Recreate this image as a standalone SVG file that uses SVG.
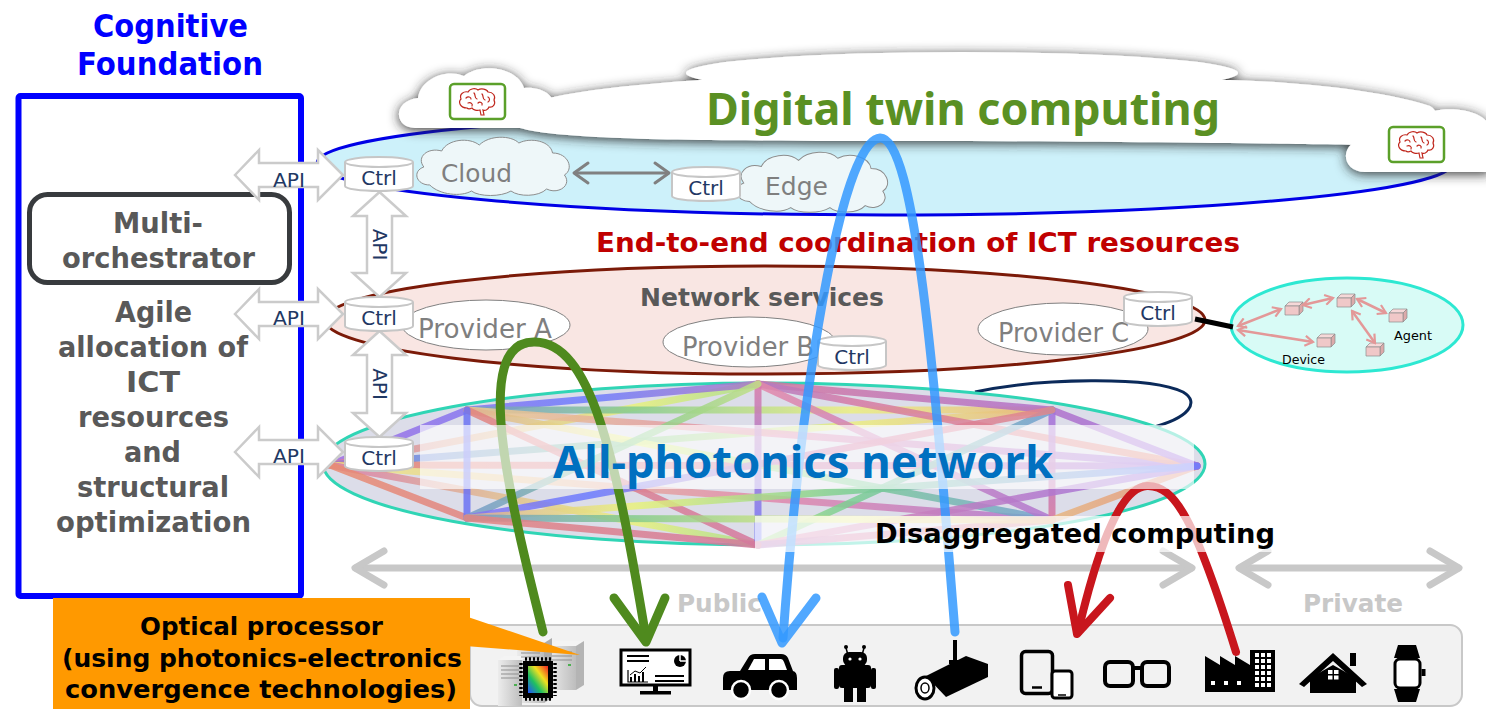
<svg xmlns="http://www.w3.org/2000/svg" xmlns:xlink="http://www.w3.org/1999/xlink" width="1486" height="709" viewBox="0 0 1486 709">
  <style>
    .nb { font-family: "Noto Sans", "Open Sans", "DejaVu Sans", sans-serif; font-weight: 700; }
    .db { font-family: "DejaVu Sans", "Verdana", sans-serif; font-weight: 700; }
    .dr { font-family: "DejaVu Sans", "Verdana", sans-serif; font-weight: 400; }
    .navy { fill: #1f3864; }
    .gray { fill: #7f7f7f; }
    .api { fill: #ffffff; stroke: #cbcbcb; stroke-width: 2.5; stroke-linejoin: miter; }
    .cyl { fill: #ffffff; stroke: #c6c6c6; stroke-width: 2; }
    .puff { fill: #eef7f9; stroke: #8c8c8c; stroke-width: 1; }
    .prov { fill: #ffffff; stroke: #808080; stroke-width: 1; }
    .mesh line { stroke-width: 7; stroke-linecap: round; opacity: 0.85; }
    .wire { fill: none; stroke-linecap: round; stroke-linejoin: round; }
    .pinkarrow { stroke: #e39898; stroke-width: 2.5; fill: none; marker-start: url(#chev); marker-end: url(#chev); }
    .cube path { stroke: #8d8d8d; stroke-width: 0.7; }
    .ico { fill: #000000; }
  </style>
  <defs>
    <filter id="shadow" x="-5%" y="-50%" width="110%" height="200%">
      <feDropShadow dx="0" dy="2" stdDeviation="6" flood-color="#262626" flood-opacity="0.95"/>
    </filter>
    <marker id="chev" viewBox="0 0 12 12" refX="10" refY="6" markerWidth="12" markerHeight="12" markerUnits="userSpaceOnUse" orient="auto-start-reverse">
      <path d="M2 1 L10 6 L2 11" fill="none" stroke="#e39898" stroke-width="2.2"/>
    </marker>
    <symbol id="cyl" overflow="visible">
      <path class="cyl" d="M0 5 A34 5 0 0 1 68 5 V29 A34 5 0 0 1 0 29 Z"/>
      <path class="cyl" d="M0 5 A34 5 0 0 0 68 5" fill="none"/>
    </symbol>
    <symbol id="puff" overflow="visible">
      <path class="puff" d="M22 50 C8 50 4 36 16 32 C8 22 20 12 34 16 C40 4 62 2 72 10 C82 0 104 0 112 8 C124 2 144 6 146 18 C162 18 168 34 158 40 C166 50 152 60 140 54 C132 62 112 62 104 56 C94 62 72 62 64 56 C54 62 32 60 22 50 Z"/>
    </symbol>
    <symbol id="brain" overflow="visible">
      <rect x="0" y="0" width="55" height="35" rx="4" fill="#ffffff" stroke="#5ba02a" stroke-width="2.5"/>
      <g fill="none" stroke="#c0281e" stroke-width="1.2" stroke-linecap="round">
        <path d="M17 24 C10 24 8 18 11 15 C9 10 14 7 18 8 C20 4 26 4 28 6 C31 4 37 5 38 8 C43 8 46 12 44 16 C46 20 43 24 39 23 C38 26 35 27 33 26 L34 31 L31 31 L30 26 C27 27 23 26 22 24 C20 25 18 25 17 24 Z"/>
        <path d="M16 14 C18 12 21 13 21 15"/>
        <path d="M24 9 C26 11 24 14 27 15"/>
        <path d="M32 10 C34 12 32 15 35 16"/>
        <path d="M18 19 C21 18 23 20 22 22"/>
        <path d="M28 19 C30 17 33 19 32 21"/>
        <path d="M38 13 C40 14 40 17 38 18"/>
      </g>
    </symbol>
    <symbol id="cube" overflow="visible">
      <g class="cube">
        <path d="M0 4 L4 0 L18 0 L14 4 Z" fill="#f6d8d8"/>
        <path d="M14 4 L18 0 L18 9 L14 13 Z" fill="#dcaaaa"/>
        <path d="M0 4 H14 V13 H0 Z" fill="#f0c8c8"/>
      </g>
    </symbol>
    <linearGradient id="gA" gradientUnits="userSpaceOnUse" x1="330" y1="0" x2="1198" y2="0">
      <stop offset="0" stop-color="#a36ee0"/><stop offset="0.3" stop-color="#6c7cff"/><stop offset="0.6" stop-color="#d67aa5"/><stop offset="1" stop-color="#e8917a"/>
    </linearGradient>
    <linearGradient id="gB" gradientUnits="userSpaceOnUse" x1="330" y1="0" x2="1198" y2="0">
      <stop offset="0" stop-color="#d979a8"/><stop offset="0.35" stop-color="#e9f27c"/><stop offset="0.6" stop-color="#7ccf93"/><stop offset="1" stop-color="#6f7dff"/>
    </linearGradient>
    <linearGradient id="gC" gradientUnits="userSpaceOnUse" x1="330" y1="0" x2="1198" y2="0">
      <stop offset="0" stop-color="#e98c72"/><stop offset="0.5" stop-color="#d4789f"/><stop offset="1" stop-color="#9f6fe2"/>
    </linearGradient>
    <linearGradient id="gD" gradientUnits="userSpaceOnUse" x1="330" y1="0" x2="1198" y2="0">
      <stop offset="0" stop-color="#6a72ff"/><stop offset="0.35" stop-color="#86cc8c"/><stop offset="0.6" stop-color="#ecef82"/><stop offset="1" stop-color="#e48e7e"/>
    </linearGradient>
    <linearGradient id="gE" gradientUnits="userSpaceOnUse" x1="330" y1="0" x2="1198" y2="0">
      <stop offset="0" stop-color="#eef283"/><stop offset="0.5" stop-color="#e288aa"/><stop offset="1" stop-color="#986fe2"/>
    </linearGradient>
    <linearGradient id="gV1" gradientUnits="userSpaceOnUse" x1="0" y1="384" x2="0" y2="545">
      <stop offset="0" stop-color="#d97aa8"/><stop offset="1" stop-color="#6c78ff"/>
    </linearGradient>
    <linearGradient id="gV2" gradientUnits="userSpaceOnUse" x1="0" y1="410" x2="0" y2="520">
      <stop offset="0" stop-color="#a070e0"/><stop offset="1" stop-color="#d8789f"/>
    </linearGradient>
    <linearGradient id="srvFront" x1="0" y1="0" x2="1" y2="0">
      <stop offset="0" stop-color="#ececec"/><stop offset="1" stop-color="#bdbdbd"/>
    </linearGradient>
    <linearGradient id="die" x1="0" y1="1" x2="1" y2="0">
      <stop offset="0" stop-color="#2050ff"/><stop offset="0.35" stop-color="#20c060"/><stop offset="0.65" stop-color="#f0e020"/><stop offset="1" stop-color="#f02020"/>
    </linearGradient>
  </defs>

  <rect width="1486" height="709" fill="#ffffff"/>

  <!-- Cognitive Foundation column -->
  <g id="cognitive-foundation">
    <text class="db" x="93" y="37" font-size="32" fill="#0000ff" textLength="155" lengthAdjust="spacingAndGlyphs">Cognitive</text>
    <text class="db" x="77" y="75" font-size="32" fill="#0000ff" textLength="186" lengthAdjust="spacingAndGlyphs">Foundation</text>
    <rect x="18.5" y="96" width="282.5" height="500" rx="2" fill="#ffffff" stroke="#0000ff" stroke-width="6"/>
  </g>
  <g id="multi-orchestrator">
    <rect x="29.5" y="194.5" width="260" height="88" rx="18" fill="#ffffff" stroke="#383b3e" stroke-width="5"/>
    <text class="db" x="113" y="233" font-size="29" fill="#595959" textLength="90" lengthAdjust="spacingAndGlyphs">Multi-</text>
    <text class="db" x="62" y="268" font-size="29" fill="#595959" textLength="193" lengthAdjust="spacingAndGlyphs">orchestrator</text>
  </g>
  <g id="agile-allocation" class="db" font-size="29" fill="#595959">
    <text x="115" y="322" textLength="77" lengthAdjust="spacingAndGlyphs">Agile</text>
    <text x="58" y="357" textLength="190" lengthAdjust="spacingAndGlyphs">allocation of</text>
    <text x="126" y="392" textLength="54" lengthAdjust="spacingAndGlyphs">ICT</text>
    <text x="78" y="427" textLength="151" lengthAdjust="spacingAndGlyphs">resources</text>
    <text x="124" y="462" textLength="57" lengthAdjust="spacingAndGlyphs">and</text>
    <text x="77" y="497" textLength="152" lengthAdjust="spacingAndGlyphs">structural</text>
    <text x="56" y="532" textLength="195" lengthAdjust="spacingAndGlyphs">optimization</text>
  </g>

  <!-- Compute layer: cloud / edge ellipse -->
  <g id="compute-layer">
    <ellipse cx="885" cy="163" rx="568" ry="52" fill="#cdf1fa" stroke="#0000e6" stroke-width="3"/>
  </g>

  <!-- Digital twin computing cloud -->
  <g id="digital-twin">
    <g filter="url(#shadow)" fill="#ffffff">
      <path d="M520 128 C560 140 700 141 900 141 C1100 141 1300 144 1370 145 C1420 140 1450 118 1430 106 C1380 90 1300 82 1230 80 L700 80 C640 84 580 90 540 100 Z"/>
      <ellipse cx="962" cy="73" rx="276" ry="21"/>
      <path d="M415 128 C394 128 392 101 418 98 C420 80 445 68 464 76 C482 62 518 68 524 88 C550 86 562 105 550 118 C548 126 540 128 530 128 Z"/>
      <path d="M1365 172 C1340 172 1338 140 1368 138 C1372 118 1400 108 1425 114 C1445 104 1490 110 1490 130 L1490 172 Z"/>
    </g>
    <use href="#brain" x="450" y="84"/>
    <use href="#brain" x="1389" y="127"/>
    <text class="nb" x="706" y="125" font-size="45" fill="#5a9023" textLength="514" lengthAdjust="spacingAndGlyphs">Digital twin computing</text>
  </g>

  <g id="cloud-node">
    <use href="#puff" transform="translate(408,135) scale(0.99,1)"/>
    <text class="dr gray" x="441" y="182" font-size="25" textLength="71" lengthAdjust="spacingAndGlyphs">Cloud</text>
  </g>
  <g id="edge-node">
    <use href="#puff" transform="translate(728,150) scale(0.98,1.03)"/>
    <text class="dr gray" x="765" y="195" font-size="25" textLength="63" lengthAdjust="spacingAndGlyphs">Edge</text>
  </g>

  <text class="db" x="596" y="252" font-size="27" fill="#c00000" textLength="644" lengthAdjust="spacingAndGlyphs">End-to-end coordination of ICT resources</text>

  <!-- Network services layer -->
  <g id="network-services">
    <ellipse cx="765" cy="320" rx="440" ry="54" fill="#f9e6e3" stroke="#7b1a08" stroke-width="3"/>
    <text class="db" x="640" y="306" font-size="25" fill="#595959" textLength="244" lengthAdjust="spacingAndGlyphs">Network services</text>
  </g>
  <g id="provider-a">
    <ellipse class="prov" cx="486" cy="325" rx="84" ry="25"/>
    <text class="dr gray" x="418" y="338" font-size="26" textLength="134" lengthAdjust="spacingAndGlyphs">Provider A</text>
  </g>
  <g id="provider-b">
    <ellipse class="prov" cx="749" cy="342" rx="86" ry="25"/>
    <text class="dr gray" x="682" y="356" font-size="26" textLength="132" lengthAdjust="spacingAndGlyphs">Provider B</text>
  </g>
  <g id="provider-c">
    <ellipse class="prov" cx="1063" cy="329" rx="85" ry="26"/>
    <text class="dr gray" x="998" y="342" font-size="26" textLength="131" lengthAdjust="spacingAndGlyphs">Provider C</text>
  </g>

  <!-- Device / agent cluster -->
  <g id="device-agents">
    <ellipse cx="1347" cy="325" rx="116" ry="47" fill="#d8fbf6" stroke="#2de8d2" stroke-width="3"/>
    <use href="#cube" x="1285" y="302"/>
    <use href="#cube" x="1337" y="294"/>
    <use href="#cube" x="1389" y="309"/>
    <use href="#cube" x="1317" y="334"/>
    <use href="#cube" x="1366" y="343"/>
    <text class="dr" x="1282" y="364" font-size="13" fill="#000" textLength="43" lengthAdjust="spacingAndGlyphs">Device</text>
    <text class="dr" x="1394" y="340" font-size="13" fill="#000" textLength="38" lengthAdjust="spacingAndGlyphs">Agent</text>
  </g>

  <!-- All-photonics network layer -->
  <g id="all-photonics">
    <path d="M975 392 C1040 378 1150 376 1183 392 C1200 402 1190 418 1150 428" fill="none" stroke="#0b2a5a" stroke-width="3"/>
    <ellipse cx="764" cy="464" rx="441" ry="81" fill="#dcdde9" stroke="#30d5b5" stroke-width="3"/>
    <g class="mesh">
      <line x1="330" y1="465" x2="467" y2="410" stroke="url(#gA)"/>
      <line x1="330" y1="465" x2="758" y2="384" stroke="url(#gB)"/>
      <line x1="330" y1="465" x2="1052" y2="410" stroke="url(#gD)"/>
      <line x1="330" y1="465" x2="1197" y2="466" stroke="url(#gC)"/>
      <line x1="330" y1="465" x2="1052" y2="520" stroke="url(#gE)"/>
      <line x1="330" y1="465" x2="758" y2="545" stroke="url(#gB)"/>
      <line x1="330" y1="465" x2="467" y2="518" stroke="url(#gC)"/>
      <line x1="467" y1="410" x2="758" y2="384" stroke="url(#gA)"/>
      <line x1="467" y1="410" x2="1052" y2="410" stroke="url(#gD)"/>
      <line x1="467" y1="410" x2="1197" y2="466" stroke="url(#gE)"/>
      <line x1="467" y1="410" x2="1052" y2="520" stroke="url(#gB)"/>
      <line x1="467" y1="410" x2="758" y2="545" stroke="url(#gC)"/>
      <line x1="467" y1="410" x2="467" y2="518" stroke="#6c74f4"/>
      <line x1="758" y1="384" x2="1052" y2="410" stroke="url(#gC)"/>
      <line x1="758" y1="384" x2="1197" y2="466" stroke="url(#gA)"/>
      <line x1="758" y1="384" x2="1052" y2="520" stroke="url(#gE)"/>
      <line x1="758" y1="384" x2="758" y2="545" stroke="url(#gV1)"/>
      <line x1="758" y1="384" x2="467" y2="518" stroke="url(#gD)"/>
      <line x1="1052" y1="410" x2="1197" y2="466" stroke="url(#gC)"/>
      <line x1="1052" y1="410" x2="1052" y2="520" stroke="url(#gV2)"/>
      <line x1="1052" y1="410" x2="758" y2="545" stroke="url(#gB)"/>
      <line x1="1052" y1="410" x2="467" y2="518" stroke="url(#gA)"/>
      <line x1="1197" y1="466" x2="1052" y2="520" stroke="url(#gD)"/>
      <line x1="1197" y1="466" x2="758" y2="545" stroke="url(#gE)"/>
      <line x1="1197" y1="466" x2="467" y2="518" stroke="url(#gB)"/>
      <line x1="1052" y1="520" x2="758" y2="545" stroke="url(#gA)"/>
      <line x1="1052" y1="520" x2="467" y2="518" stroke="url(#gD)"/>
      <line x1="758" y1="545" x2="467" y2="518" stroke="url(#gC)"/>
    </g>
  </g>

  <!-- Public / Private span arrows -->
  <g id="scope-arrows" class="wire" stroke="#c8c8c8" stroke-width="7">
    <path d="M356 568 H1191"/>
    <path d="M384 551 L355 568 L384 585"/>
    <path d="M1163 551 L1192 568 L1163 585"/>
    <path d="M1240 568 H1458"/>
    <path d="M1268 551 L1239 568 L1268 585"/>
    <path d="M1430 551 L1459 568 L1430 585"/>
  </g>
  <text class="db" x="677" y="612" font-size="24.5" fill="#c8c8c8" textLength="85" lengthAdjust="spacingAndGlyphs">Public</text>
  <text class="db" x="1303" y="612" font-size="24.5" fill="#c8c8c8" textLength="100" lengthAdjust="spacingAndGlyphs">Private</text>

  <!-- Device tray with endpoint icons -->
  <g id="device-tray">
    <rect x="470" y="625" width="992" height="81" rx="12" fill="#f2f2f2" stroke="#c8c8c8" stroke-width="2"/>
  </g>
  <g id="icon-server">
    <path d="M548 646 L556 641 L584 641 L576 646 Z" fill="#f4f4f4"/>
    <rect x="548" y="646" width="28" height="44" fill="url(#srvFront)"/>
    <path d="M576 646 L584 641 L584 685 L576 690 Z" fill="#b4b4b4"/>
    <path d="M517 643 L525 638 L552 638 L544 643 Z" fill="#f4f4f4"/>
    <rect x="517" y="643" width="27" height="60" fill="url(#srvFront)"/>
    <path d="M544 643 L552 638 L552 698 L544 703 Z" fill="#acacac"/>
    <path d="M498 660 L504 656 L528 656 L522 660 Z" fill="#f4f4f4"/>
    <rect x="498" y="660" width="24" height="46" fill="url(#srvFront)"/>
    <g stroke="#8f8f8f" stroke-width="1">
      <path d="M552 652 H572 M552 656 H572 M552 660 H572"/>
      <path d="M521 649 H540 M521 653 H540 M521 657 H540"/>
      <path d="M501 666 H519 M501 670 H519 M501 674 H519 M501 678 H519"/>
    </g>
    <g fill="#4caf50">
      <rect x="568" y="664" width="3" height="2"/>
      <rect x="536" y="661" width="3" height="2"/>
      <rect x="514" y="684" width="3" height="2"/>
    </g>
    <g stroke="#000" stroke-width="3.5" stroke-dasharray="2 2">
      <line x1="525" y1="659" x2="552" y2="659"/>
      <line x1="525" y1="699" x2="552" y2="699"/>
      <line x1="521" y1="663" x2="521" y2="696"/>
      <line x1="555" y1="663" x2="555" y2="696"/>
    </g>
    <rect x="523" y="661" width="30" height="37" fill="#000"/>
    <rect x="528" y="666" width="20" height="27" fill="url(#die)"/>
  </g>
  <g id="icon-monitor">
    <rect x="621" y="650" width="69" height="35" fill="#fff" stroke="#000" stroke-width="3"/>
    <rect x="653" y="685" width="5" height="7" fill="#000"/>
    <rect x="640" y="691" width="31" height="3.5" fill="#000"/>
    <path d="M627 656 H649 M627 661 H649 M655 676 H684 M655 681 H684" stroke="#000" stroke-width="2"/>
    <circle cx="680" cy="661" r="6" fill="#000"/>
    <path d="M680 661 V654.5 M680 661 H686.5" stroke="#fff" stroke-width="1.5"/>
    <path d="M628 670 V682 H648" fill="none" stroke="#000" stroke-width="1.2"/>
    <path d="M631 682 V677 M635 682 V674 M639 682 V676 M643 682 V672" stroke="#000" stroke-width="2"/>
    <path d="M630 675 L635 671 L640 673 L646 667" fill="none" stroke="#000" stroke-width="1"/>
  </g>
  <g id="icon-car">
    <path class="ico" d="M723 690 V678 Q723 671 730 671 L740 671 L748 658 Q750 654 755 654 L781 654 Q786 654 788 658 L793 671 Q797 672 797 678 V690 Z"/>
    <path d="M748 670 L754 659 L765 659 L765 670 Z" fill="#fff"/>
    <path d="M769 659 L781 659 Q783 659 784 662 L787 670 L769 670 Z" fill="#fff"/>
    <circle cx="741" cy="690" r="9" fill="#000" stroke="#fff" stroke-width="2.5"/>
    <circle cx="779" cy="690" r="9" fill="#000" stroke="#fff" stroke-width="2.5"/>
  </g>
  <g id="icon-robot" class="ico">
    <path d="M846 648 L848 655 M864 648 L862 655" stroke="#000" stroke-width="1.5"/>
    <circle cx="846" cy="647" r="2"/>
    <circle cx="864" cy="647" r="2"/>
    <rect x="843" y="652" width="24" height="14" rx="6"/>
    <rect x="839" y="665" width="32" height="23" rx="3"/>
    <rect x="834" y="668" width="5" height="21" rx="2"/>
    <rect x="871" y="668" width="5" height="21" rx="2"/>
    <rect x="844" y="687" width="9" height="15"/>
    <rect x="857" y="687" width="9" height="15"/>
    <circle cx="850" cy="659" r="1.6" fill="#fff"/>
    <circle cx="860" cy="659" r="1.6" fill="#fff"/>
  </g>
  <g id="icon-camera">
    <rect class="ico" x="953" y="640" width="4" height="20"/>
    <path class="ico" d="M949 660 H961 V664 H949 Z"/>
    <path class="ico" d="M926 676 L966 656 L988 664 L988 677 L946 697 Z"/>
    <ellipse cx="925" cy="688" rx="9" ry="11" fill="#fff" stroke="#000" stroke-width="3"/>
    <ellipse cx="925" cy="688" rx="4" ry="5" fill="none" stroke="#000" stroke-width="1.5"/>
  </g>
  <g id="icon-tablets">
    <rect x="1021.5" y="651.5" width="31" height="42" rx="4" fill="none" stroke="#000" stroke-width="3.5"/>
    <path d="M1032 687.5 H1042" stroke="#000" stroke-width="2.5"/>
    <rect x="1052" y="671" width="20" height="27" rx="3" fill="#fff" stroke="#000" stroke-width="3"/>
    <path d="M1058 695 H1066" stroke="#000" stroke-width="1.5"/>
  </g>
  <g id="icon-glasses" fill="none" stroke="#000" stroke-width="4">
    <rect x="1105" y="662" width="28" height="24" rx="5"/>
    <rect x="1142" y="662" width="27" height="24" rx="5"/>
    <path d="M1133 668 H1142"/>
  </g>
  <g id="icon-factory">
    <path class="ico" d="M1205 692 V656 L1220 665 V656 L1235 665 V656 L1250 665 V650 H1275 V692 Z"/>
    <g fill="#fff">
      <rect x="1211" y="681" width="4" height="4"/><rect x="1224" y="681" width="4" height="4"/><rect x="1237" y="681" width="4" height="4"/>
      <rect x="1255" y="653" width="4" height="4"/><rect x="1261" y="653" width="4" height="4"/><rect x="1267" y="653" width="4" height="4"/>
      <rect x="1255" y="659" width="4" height="4"/><rect x="1261" y="659" width="4" height="4"/><rect x="1267" y="659" width="4" height="4"/>
      <rect x="1255" y="665" width="4" height="4"/><rect x="1261" y="665" width="4" height="4"/><rect x="1267" y="665" width="4" height="4"/>
      <rect x="1255" y="671" width="4" height="4"/><rect x="1261" y="671" width="4" height="4"/><rect x="1267" y="671" width="4" height="4"/>
      <rect x="1255" y="677" width="4" height="4"/><rect x="1261" y="677" width="4" height="4"/><rect x="1267" y="677" width="4" height="4"/>
      <rect x="1255" y="683" width="4" height="4"/><rect x="1261" y="683" width="4" height="4"/><rect x="1267" y="683" width="4" height="4"/>
    </g>
  </g>
  <g id="icon-house">
    <path class="ico" d="M1299 684 L1333 653 L1367 684 L1362 687 L1333 661 L1304 687 Z"/>
    <rect class="ico" x="1350" y="653" width="6" height="13"/>
    <path class="ico" d="M1310 693 V678 L1333 665 L1356 678 V693 Z"/>
    <g fill="#fff">
      <rect x="1328" y="670" width="4.5" height="4"/><rect x="1334" y="670" width="4.5" height="4"/>
      <rect x="1328" y="675.5" width="4.5" height="4"/><rect x="1334" y="675.5" width="4.5" height="4"/>
    </g>
  </g>
  <g id="icon-watch">
    <path class="ico" d="M1398 645 H1416 L1420 658 H1394 Z"/>
    <rect x="1395" y="659" width="25" height="29" rx="5" fill="#fff" stroke="#000" stroke-width="3"/>
    <path class="ico" d="M1394 689 H1420 L1416 702 H1398 Z"/>
    <rect class="ico" x="1421.5" y="669" width="4" height="7"/>
  </g>

  <!-- Links between layers -->
  <g id="connectors">
    <path d="M575 173 H668" stroke="#808080" stroke-width="3"/>
    <path class="wire" d="M588 163 L574 173 L588 183 M655 163 L669 173 L655 183" stroke="#808080" stroke-width="3"/>
    <path d="M1195 319 L1233 327" stroke="#000" stroke-width="5"/>
    <path class="pinkarrow" d="M1238 326 L1281 309"/>
    <path class="pinkarrow" d="M1303 305 L1333 298"/>
    <path class="pinkarrow" d="M1357 299 L1386 313"/>
    <path class="pinkarrow" d="M1352 311 L1375 343"/>
    <path class="pinkarrow" d="M1238 330 L1313 342"/>
    <!-- API arrows from the orchestrator to each controller -->
    <polygon class="api" points="235,175 259,150 259,163 318,163 318,150 343,175 318,200 318,187 259,187 259,200"/>
    <polygon class="api" points="235,314 259,289 259,302 318,302 318,289 343,314 318,339 318,326 259,326 259,339"/>
    <polygon class="api" points="235,452 259,427 259,440 318,440 318,427 343,452 318,477 318,464 259,464 259,477"/>
    <polygon class="api" points="379.5,192 406,216 392,216 392,273 406,273 379.5,297 353,273 367,273 367,216 353,216"/>
    <polygon class="api" points="379.5,331 406,355 392,355 392,413 406,413 379.5,437 353,413 367,413 367,355 353,355"/>
    <text class="dr navy" x="273" y="187" font-size="20" textLength="32" lengthAdjust="spacingAndGlyphs">API</text>
    <text class="dr navy" x="273" y="325" font-size="20" textLength="32" lengthAdjust="spacingAndGlyphs">API</text>
    <text class="dr navy" x="273" y="463" font-size="20" textLength="32" lengthAdjust="spacingAndGlyphs">API</text>
    <text class="dr navy" transform="translate(372.5,244.5) rotate(90)" text-anchor="middle" font-size="20">API</text>
    <text class="dr navy" transform="translate(372.5,384) rotate(90)" text-anchor="middle" font-size="20">API</text>
  </g>

  <!-- Controllers -->
  <g id="ctrl-cloud"><use href="#cyl" x="345" y="157"/><text class="dr navy" x="379" y="185" font-size="20" text-anchor="middle">Ctrl</text></g>
  <g id="ctrl-edge"><use href="#cyl" x="672" y="167"/><text class="dr navy" x="706" y="195" font-size="20" text-anchor="middle">Ctrl</text></g>
  <g id="ctrl-network"><use href="#cyl" x="345" y="297"/><text class="dr navy" x="379" y="325" font-size="20" text-anchor="middle">Ctrl</text></g>
  <g id="ctrl-provider-b"><use href="#cyl" x="818" y="336"/><text class="dr navy" x="852" y="364" font-size="20" text-anchor="middle">Ctrl</text></g>
  <g id="ctrl-provider-c"><use href="#cyl" x="1124" y="292"/><text class="dr navy" x="1158" y="320" font-size="20" text-anchor="middle">Ctrl</text></g>
  <g id="ctrl-photonics"><use href="#cyl" x="345" y="437"/><text class="dr navy" x="379" y="465" font-size="20" text-anchor="middle">Ctrl</text></g>

  <!-- Data flows through the layers -->
  <g id="flows" class="wire">
    <path d="M543 632 C510 500 470 340 535 342 C590 343 615 450 646 638" stroke="#4f8a1e" stroke-width="9"/>
    <path d="M614 598 L646 642 L665 598" stroke="#4f8a1e" stroke-width="9"/>
    <path d="M955 632 C935 380 915 136 880 138 C840 140 800 400 783 638" stroke="#3399ff" stroke-opacity="0.85" stroke-width="9"/>
    <path d="M762 597 L782 643 L816 598" stroke="#3399ff" stroke-opacity="0.85" stroke-width="9"/>
    <path d="M1236 652 C1195 520 1175 485 1147 486 C1118 487 1095 560 1078 632" stroke="#c8161d" stroke-width="8"/>
    <path d="M1068 585 L1077 634 L1110 598" stroke="#c8161d" stroke-width="8"/>
  </g>

  <!-- Labels over the photonic mesh -->
  <g id="photonics-label">
    <rect x="420" y="425" width="774" height="64" fill="#ffffff" fill-opacity="0.65"/>
    <text class="nb" x="553" y="478" font-size="45" fill="#0070c0" textLength="500" lengthAdjust="spacingAndGlyphs">All-photonics network</text>
  </g>
  <g id="disaggregated-label">
    <rect x="755" y="516" width="530" height="36" fill="#ffffff" fill-opacity="0.7"/>
    <text class="db" x="875" y="543" font-size="27" fill="#000000" textLength="400" lengthAdjust="spacingAndGlyphs">Disaggregated computing</text>
  </g>

  <!-- Optical processor callout -->
  <g id="optical-processor">
    <polygon points="465,616 580,655 465,646" fill="#ff9900"/>
    <rect x="53" y="598" width="417" height="111" fill="#ff9900"/>
    <text class="db" x="140" y="635" font-size="25" fill="#000" textLength="243" lengthAdjust="spacingAndGlyphs">Optical processor</text>
    <text class="db" x="62" y="667" font-size="25" fill="#000" textLength="400" lengthAdjust="spacingAndGlyphs">(using photonics-electronics</text>
    <text class="db" x="65" y="698" font-size="25" fill="#000" textLength="392" lengthAdjust="spacingAndGlyphs">convergence technologies)</text>
  </g>
</svg>
